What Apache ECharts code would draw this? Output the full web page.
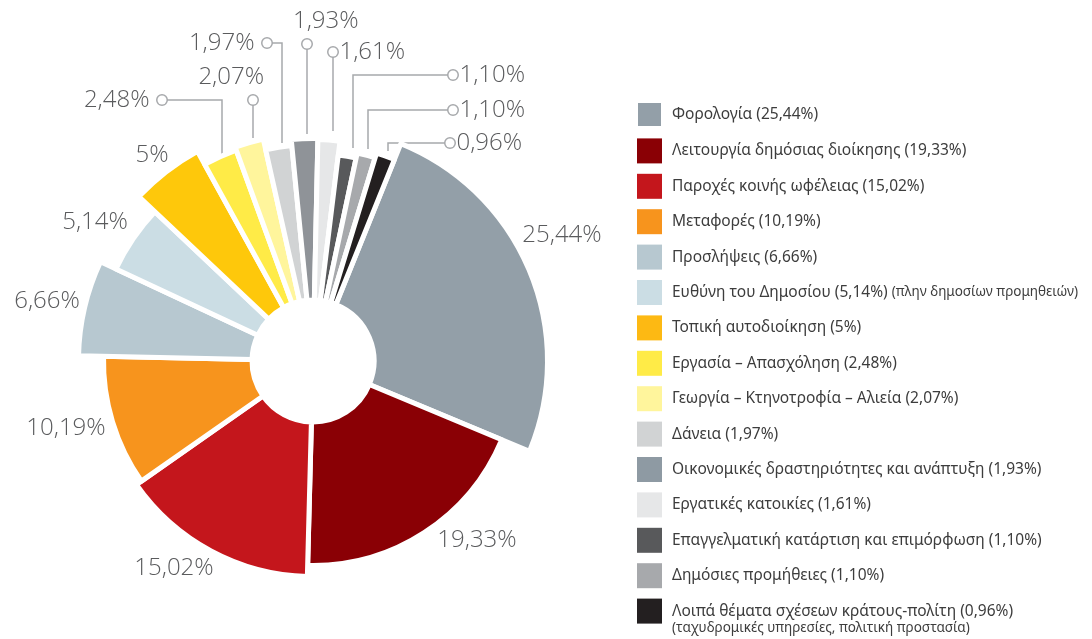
<!DOCTYPE html>
<html>
<head>
<meta charset="utf-8">
<script src="https://cdn.jsdelivr.net/npm/echarts@6/dist/echarts.min.js"></script>
<style>
html, body { margin: 0; padding: 0; background: #fff; }
#chart1 { width: 1092px; height: 639px; }
</style>
</head>
<body>
<div id="chart1"></div>
<script>
var categories = [
    "Φορολογία",
    "Λειτουργία δημόσιας διοίκησης",
    "Παροχές κοινής ωφέλειας",
    "Μεταφορές",
    "Προσλήψεις",
    "Ευθύνη του Δημοσίου",
    "Τοπική αυτοδιοίκηση",
    "Εργασία – Απασχόληση",
    "Γεωργία – Κτηνοτροφία – Αλιεία",
    "Δάνεια",
    "Οικονομικές δραστηριότητες και ανάπτυξη",
    "Εργατικές κατοικίες",
    "Επαγγελματική κατάρτιση και επιμόρφωση",
    "Δημόσιες προμήθειες",
    "Λοιπά θέματα σχέσεων κράτους-πολίτη"
]
var shares = [25.44, 19.33, 15.02, 10.19, 6.66, 5.14, 5, 2.48, 2.07, 1.97, 1.93, 1.61, 1.10, 1.10, 0.96]
var notes = { 5: "(πλην δημοσίων προμηθειών)" }
var footNote = "(ταχυδρομικές υπηρεσίες, πολιτική προστασία)"

var colors = [
    "#939fa8", "#8a0005", "#c4161c", "#f7941d", "#b7c8d0",
    "#cbdde4", "#fec80b", "#ffeb47", "#fff59c", "#d1d3d4",
    "#8f9398", "#e6e7e8", "#58595b", "#a7a9ac", "#231f20"
]
// the legend swatches are printed a little differently for two items
var legendColors = colors.slice()
legendColors[6] = "#fdb913"
legendColors[10] = "#8e9aa3"

// every slice has its own outer radius in the original drawing
var sliceRadius = [232, 202, 213, 207, 232, 215, 237, 222, 225, 214, 220, 219, 205, 210, 215]

// where each percentage label sits (callouts end in a small ring)
var labelPlace = [
    { x: 562, y: 235 },
    { x: 477, y: 540 },
    { x: 174, y: 568 },
    { x: 66, y: 428 },
    { x: 47, y: 301 },
    { x: 95, y: 222 },
    { x: 152, y: 155 },
    { x: 166.5, y: 100, align: "right", tpl: "{t|%s}{s8|}{c|}", line: [[222, 156], [222, 100], [166.5, 100]] },
    { x: 264, y: 110, align: "right", verticalAlign: "bottom", tpl: "{t|%s}\n{c|}{s6|}", line: [[253, 138], [253, 120], [253, 104.5]] },
    { x: 271.5, y: 43, align: "right", tpl: "{t|%s}{s8|}{c|}", line: [[282, 143], [282, 43], [271.5, 43]] },
    { x: 293, y: 54, align: "left", verticalAlign: "bottom", tpl: "{t|%s}\n{s9|}{c|}", line: [[307, 134], [307, 90], [307, 48.5]] },
    { x: 328.5, y: 52, align: "left", tpl: "{c|}{s2|}{t|%s}", line: [[333, 131], [333, 90], [333, 56.5]] },
    { x: 448.5, y: 75, align: "left", tpl: "{c|}{s2|}{t|%s}", line: [[353, 148], [353, 75], [448.5, 75]] },
    { x: 448.5, y: 110, align: "left", tpl: "{c|}{s2|}{t|%s}", line: [[368, 149], [368, 110], [448.5, 110]] },
    { x: 445.5, y: 143, align: "left", tpl: "{c|}{s2|}{t|%s}", line: [[388, 151], [388, 143], [445.5, 143]] }
]

function pctText(v) {
    return v % 1 === 0 ? String(v) : v.toFixed(2).replace(".", ",")
}

var chart = echarts.init(document.querySelector("#chart1"))

var labelRich = {
    t: { fontSize: 24, fontFamily: "Open Sans", fontWeight: 300, color: "#5a5b5d", lineHeight: 26 },
    c: { width: 9, height: 9, borderRadius: 5, borderWidth: 1.5, borderColor: "#a7a9ac", backgroundColor: "#fff", lineHeight: 20 },
    s2: { width: 2 },
    s6: { width: 6.5 },
    s8: { width: 8 },
    s9: { width: 9.5 }
}

// one pie per slice so that each slice can get its own outer radius;
// the other slices of that pie stay invisible but keep the angles
var series = categories.map(function (name, i) {
    return {
        type: "pie",
        center: [313, 361],
        radius: [61, sliceRadius[i] + 2.5],
        startAngle: 68,
        minAngle: 5,
        avoidLabelOverlap: false,
        silent: true,
        animation: false,
        emphasis: { disabled: true },
        label: {
            position: "outside",
            rich: labelRich,
            formatter: function (params) {
                var tpl = labelPlace[params.dataIndex].tpl || "{t|%s}"
                return tpl.replace("%s", pctText(params.value) + "%")
            }
        },
        labelLine: {
            lineStyle: { color: "#a7a9ac", width: 1.5 }
        },
        labelLayout: function (params) {
            var p = labelPlace[params.dataIndex]
            var res = {
                x: p.x,
                y: p.y,
                align: p.align || "center",
                verticalAlign: p.verticalAlign || "middle"
            }
            if (p.line) res.labelLinePoints = p.line
            return res
        },
        data: categories.map(function (n, j) {
            var own = j === i
            return {
                name: n,
                value: shares[j],
                itemStyle: own
                    ? { color: colors[j], borderColor: "#fff", borderWidth: 5 }
                    : { color: "rgba(0,0,0,0)", borderWidth: 0 },
                label: { show: own },
                labelLine: { show: own && !!labelPlace[j].line }
            }
        })
    }
})

var option = {
    backgroundColor: "#fff",
    legend: {
        orient: "vertical",
        left: 636,
        top: 101,
        padding: 0,
        itemWidth: 25,
        itemHeight: 25,
        itemGap: 10.4,
        icon: "rect",
        selectedMode: false,
        data: categories.map(function (n, j) {
            return { name: n, itemStyle: { color: legendColors[j] } }
        }),
        textStyle: {
            fontFamily: "Noto Sans",
            fontSize: 15.5,
            color: "#3d3d3d",
            padding: [0, 0, 0, 5],
            rich: {
                s: { fontFamily: "Noto Sans", fontSize: 13.5, color: "#3d3d3d" }
            }
        },
        formatter: function (name) {
            var j = categories.indexOf(name)
            var txt = name + " (" + pctText(shares[j]) + "%)"
            if (notes[j]) txt += " {s|" + notes[j] + "}"
            return txt
        }
    },
    graphic: [{
        type: "text",
        left: 672,
        top: 621,
        style: {
            text: footNote,
            fontFamily: "Noto Sans",
            fontSize: 13.5,
            fill: "#3d3d3d"
        }
    }],
    series: series
}

chart.setOption(option)
</script>
</body>
</html>
